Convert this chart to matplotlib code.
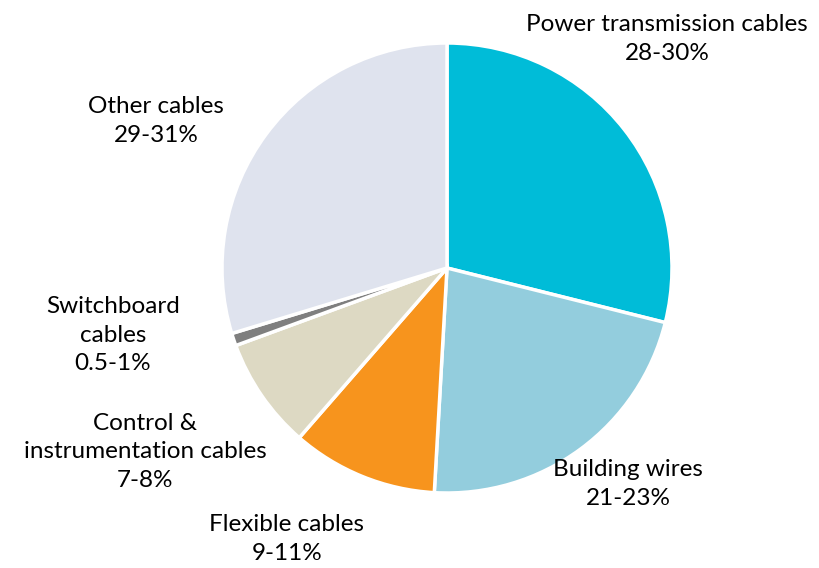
import matplotlib.pyplot as plt

labels = ['Power transmission cables', 'Building wires', 'Flexible cables',
          'Control &\ninstrumentation cables', 'Switchboard\ncables', 'Other cables']
ranges = ['28-30%', '21-23%', '9-11%', '7-8%', '0.5-1%', '29-31%']
shares = [28.9, 22.0, 10.5, 8.0, 0.9, 29.7]
colors = ['#00BCD8', '#93CDDD', '#F7941D', '#DDD9C3', '#7F7F7F', '#DFE3EE']

# label anchor points in pixel space (x, y from top)
label_pos = [(667, 39), (628, 484), (287, 539), (145, 452), (113, 335), (156, 121)]

plt.rcParams['font.family'] = ['Lato', 'DejaVu Sans']

fig = plt.figure(figsize=(8.2, 5.68), dpi=100)
ax = fig.add_axes([0, 0, 1, 1])
ax.pie(shares, colors=colors, startangle=90, counterclock=False,
       center=(447, 568 - 268), radius=225,
       wedgeprops=dict(edgecolor='white', linewidth=2.5))
ax.set_xlim(0, 820)
ax.set_ylim(0, 568)
ax.set_aspect('equal')
ax.axis('off')

for lab, rng, (x, y) in zip(labels, ranges, label_pos):
    ax.text(x, 568 - y, lab + '\n' + rng, ha='center', va='center',
            fontsize=17.5, color='black', linespacing=1.42)

fig.savefig('out.png', dpi=100)
